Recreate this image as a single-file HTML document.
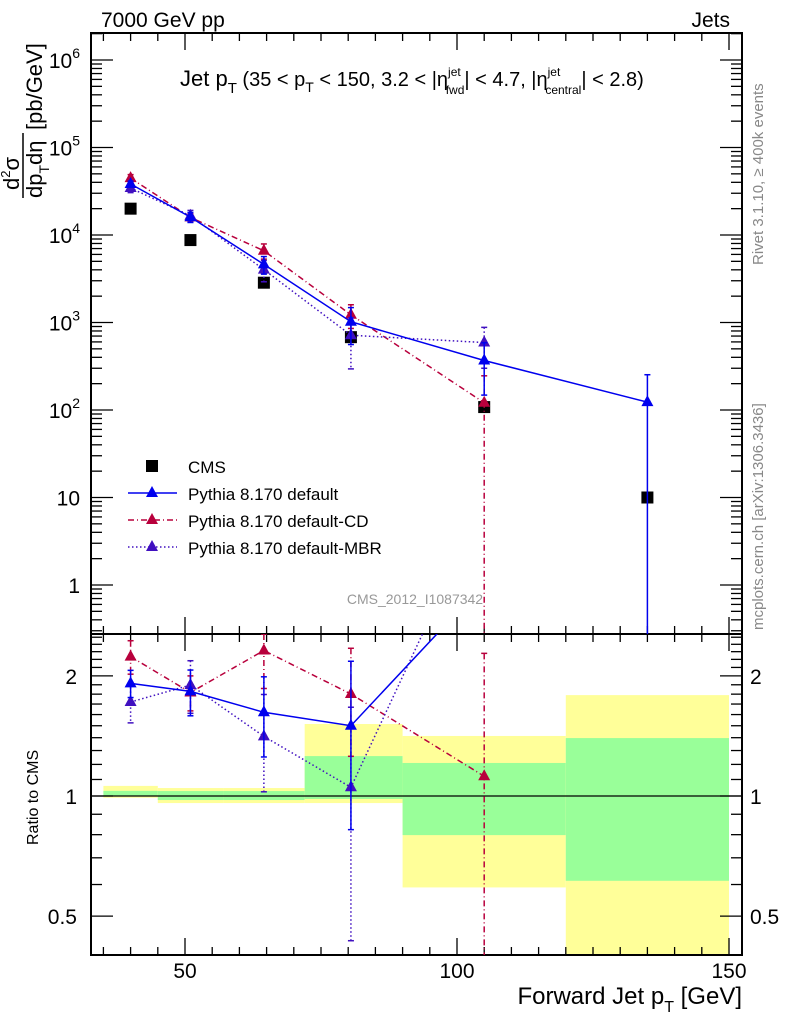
<!DOCTYPE html>
<html><head><meta charset="utf-8"><style>
html,body{margin:0;padding:0;background:#fff;width:786px;height:1024px;overflow:hidden}
svg{display:block;font-family:"Liberation Sans",sans-serif}
</style></head><body>
<svg id="c" width="786" height="1024" viewBox="0 0 786 1024" xmlns="http://www.w3.org/2000/svg">
<rect width="786" height="1024" fill="#fff"/>
<g id="bands"></g>
<g id="axes"></g>
<g id="marks"></g>
<text x="101" y="27" font-size="21">7000 GeV pp</text>
<text x="730" y="27" font-size="21" text-anchor="end">Jets</text>
<text x="180" y="86" font-size="22">Jet p<tspan font-size="15" dy="7">T</tspan><tspan dy="-7" font-size="20"> (35 &lt; p</tspan><tspan font-size="14" dy="6">T</tspan><tspan dy="-6" font-size="20"> &lt; 150, 3.2 &lt; |η</tspan><tspan font-size="12" dy="-10">jet</tspan><tspan font-size="12" dx="-15" dy="18">fwd</tspan><tspan dy="-8" font-size="20">| &lt; 4.7, |η</tspan><tspan font-size="12" dy="-10">jet</tspan><tspan font-size="12" dx="-15" dy="18">central</tspan><tspan dy="-8" font-size="20">| &lt; 2.8)</tspan></text>
<text transform="translate(763,265) rotate(-90)" font-size="15" fill="#888">Rivet 3.1.10, ≥ 400k events</text>
<text transform="translate(763,630) rotate(-90)" font-size="15" fill="#888">mcplots.cern.ch [arXiv:1306.3436]</text>
<text x="415" y="604" font-size="14" fill="#999" text-anchor="middle">CMS_2012_I1087342</text>
<g>
<line x1="23" y1="133" x2="23" y2="198" stroke="#000" stroke-width="1.5"/>
<text transform="translate(19,190) rotate(-90)" font-size="22">d<tspan font-size="13" dy="-9">2</tspan><tspan dy="9">σ</tspan></text>
<text transform="translate(42,198) rotate(-90)" font-size="22">dp<tspan font-size="14" dy="7">T</tspan><tspan dy="-7">dη</tspan></text>
<text transform="translate(42,130) rotate(-90)" font-size="22">[pb/GeV]</text>
</g>
<text transform="translate(38,845) rotate(-90)" font-size="16">Ratio to CMS</text>
<text x="742" y="1004" font-size="24" text-anchor="end">Forward Jet p<tspan font-size="16" dy="8">T</tspan><tspan dy="-8"> [GeV]</tspan></text>
<g>
<rect x="146" y="460" width="12" height="12" fill="#000"/>
<text x="188" y="473" font-size="17">CMS</text>
<line x1="128" y1="493" x2="177" y2="493" stroke="#0000ee" stroke-width="1.5"/>
<polygon points="152,486 158,497 146,497" fill="#0000ee"/>
<text x="188" y="500" font-size="17">Pythia 8.170 default</text>
<line x1="128" y1="520" x2="177" y2="520" stroke="#b8003c" stroke-width="1.5" stroke-dasharray="6,3,1,3"/>
<polygon points="152,513 158,524 146,524" fill="#b8003c"/>
<text x="188" y="527" font-size="17">Pythia 8.170 default-CD</text>
<line x1="128" y1="547" x2="177" y2="547" stroke="#4010c0" stroke-width="1.5" stroke-dasharray="1.5,2.5"/>
<polygon points="152,540 158,551 146,551" fill="#4010c0"/>
<text x="188" y="554" font-size="17">Pythia 8.170 default-MBR</text>
</g>
</svg>
<script>
// ---- data ----
const xCenters=[40,51,64.5,80.5,105,135];
const binEdges=[35,45,57,72,90,120,150];
const cmsVals=[20000,8750,2850,680,108,10];
const defVals=[38300,16000,4620,1020,368,123];
const defErr=[3000,2100,1050,460,220,130];
const cdVals=[44700,15900,6600,1225,121];
const cdErr=[4300,1600,1300,370,125];
const mbrVals=[34400,16600,4020,715,590];
const mbrErr=[3900,2500,1100,420,290];
const bandYellowHi=[1.06,1.047,1.047,1.515,1.414,1.79];
const bandYellowLo=[0.99,0.96,0.96,0.96,0.59,0.3];
const bandGreenHi=[1.03,1.029,1.029,1.259,1.21,1.397];
const bandGreenLo=[1.0,0.977,0.977,0.983,0.798,0.613];
const xTicks=[50,100,150];
const mainTicks=[1,10,100,1000,10000,100000,1000000];
const mainTickLabels=["1","10","10^2","10^3","10^4","10^5","10^6"];
const ratioTicks=[0.5,1,2];
const ratioTickLabels=["0.5","1","2"];
// ---- geometry ----
const L=91,R=742,T=33,M=634,B=955;
const X=v=>185+(v-50)*5.44;
const Y=v=>60-(Math.log10(v)-6)*87.5;
const YR=v=>796-Math.log10(v)*399;
const NS="http://www.w3.org/2000/svg";
function mk(tag,at,parent){const e=document.createElementNS(NS,tag);for(const k in at)e.setAttribute(k,at[k]);parent.appendChild(e);return e;}
const axes=document.getElementById('axes'),marks=document.getElementById('marks'),bands=document.getElementById('bands');
for(let i=0;i<6;i++){
 const x1=X(binEdges[i]),x2=X(binEdges[i+1]);
 const yt=Math.max(M,YR(bandYellowHi[i])),yb=Math.min(B,YR(bandYellowLo[i]));
 const r1=mk('rect',{x:x1,y:yt,width:x2-x1,height:yb-yt,fill:'#ffff99'},bands);
 
 
 const gt=YR(bandGreenHi[i]),gb=Math.min(B,YR(bandGreenLo[i]));
 const r2=mk('rect',{x:x1,y:gt,width:x2-x1,height:gb-gt,fill:'#99ff99'},bands);
 
 
}
mk('line',{x1:L,y1:YR(1),x2:R,y2:YR(1),stroke:'#000','stroke-width':1.3},bands);
mk('rect',{x:L,y:T,width:R-L,height:M-T,fill:'none',stroke:'#000','stroke-width':2},axes);
mk('rect',{x:L,y:M,width:R-L,height:B-M,fill:'none',stroke:'#000','stroke-width':2},axes);
for(let v=35;v<=150;v+=5){
 const major=v%50===0, x=X(v), len=major?17:8;
 [[T,1],[M,-1],[M,1],[B,-1]].forEach(([y0,d])=>mk('line',{x1:x,y1:y0,x2:x,y2:y0+d*len,stroke:'#000','stroke-width':1.3},axes));
}
xTicks.forEach(v=>{const t=mk('text',{x:X(v),y:978,'font-size':21,'text-anchor':'middle'},axes);t.textContent=v;
 
 });
for(let e=-1;e<=6;e++)for(let m=1;m<10;m++){
 const v=m*Math.pow(10,e),y=Y(v); if(y<T||y>M)continue;
 const len=m===1?22:11;
 mk('line',{x1:L,y1:y,x2:L+len,y2:y,stroke:'#000','stroke-width':1.3},axes);
 mk('line',{x1:R,y1:y,x2:R-len,y2:y,stroke:'#000','stroke-width':1.3},axes);
}
mainTicks.forEach((v,i)=>{const lab=mainTickLabels[i];const t=mk('text',{x:80,y:Y(v)+8,'font-size':21,'text-anchor':'end'},axes);
 if(lab.includes('^')){const p=lab.split('^');t.textContent=p[0];const s=mk('tspan',{'font-size':14,dy:-10},t);s.textContent=p[1];}else t.textContent=lab;
 
 });
const rt=[0.4,0.5,0.6,0.7,0.8,0.9,1,1.1,1.2,1.3,1.4,1.5,1.6,1.7,1.8,1.9,2,2.1,2.2,2.3,2.4,2.5];
rt.forEach(v=>{const y=YR(v);if(y<M||y>B)return;const len=(v===0.5||v===1||v===2)?22:11;
 mk('line',{x1:L,y1:y,x2:L+len,y2:y,stroke:'#000','stroke-width':1.3},axes);
 mk('line',{x1:R,y1:y,x2:R-len,y2:y,stroke:'#000','stroke-width':1.3},axes);});
ratioTicks.forEach((v,i)=>{
 const t=mk('text',{x:77,y:YR(v)+8,'font-size':21,'text-anchor':'end'},axes);t.textContent=ratioTickLabels[i];
 
 
 const t2=mk('text',{x:750,y:YR(v)+8,'font-size':21},axes);t2.textContent=ratioTickLabels[i];
 
 });
const defs=mk('defs',{},document.getElementById('c'));
const c1=mk('clipPath',{id:'cm'},defs);mk('rect',{x:L,y:T,width:R-L,height:M-T},c1);
const c2=mk('clipPath',{id:'cr'},defs);mk('rect',{x:L,y:M,width:R-L,height:B-M},c2);
const gm=mk('g',{'clip-path':'url(#cm)'},marks),gr=mk('g',{'clip-path':'url(#cr)'},marks);
cmsVals.forEach((v,i)=>{const r=mk('rect',{x:X(xCenters[i])-6,y:Y(v)-6,width:12,height:12,fill:'#000'},gm);
 
 });
function series(name,vals,errs,color,dash){
 const ptsM=vals.map((v,i)=>X(xCenters[i])+','+Y(v)).join(' ');
 const pl=mk('polyline',{points:ptsM,fill:'none',stroke:color,'stroke-width':1.5,'stroke-dasharray':dash},gm);
 
 
 const ptsR=vals.map((v,i)=>X(xCenters[i])+','+YR(v/cmsVals[i])).join(' ');
 const pr=mk('polyline',{points:ptsR,fill:'none',stroke:color,'stroke-width':1.5,'stroke-dasharray':dash},gr);
 
 
 vals.forEach((v,i)=>{
  const x=X(xCenters[i]);
  [[gm,Y,1,T,M],[gr,YR,cmsVals[i],M,B]].forEach(([g,f,s,top,bot])=>{
   const yy=f(v/s);
   if(yy<top||yy>bot)return;
   const hi=(v+errs[i])/s,lo=(v-errs[i])/s;
   const y1=Math.max(top,f(hi)),y2=lo>0?Math.min(bot,f(lo)):bot;
   mk('line',{x1:x,y1:y1,x2:x,y2:y2,stroke:color,'stroke-width':1.5,'stroke-dasharray':dash},g);
   mk('line',{x1:x-3,y1:y1,x2:x+3,y2:y1,stroke:color,'stroke-width':1.5},g);
   if(lo>0)mk('line',{x1:x-3,y1:y2,x2:x+3,y2:y2,stroke:color,'stroke-width':1.5},g);
   const tri=mk('polygon',{points:`${x},${yy-7} ${x+6},${yy+4} ${x-6},${yy+4}`,fill:color},g);
   
   
  });
 });
}
series('cd',cdVals,cdErr,'#b8003c','6,3,1,3');
series('mbr',mbrVals,mbrErr,'#4010c0','1.5,2.5');
series('default',defVals,defErr,'#0000ee','none');
</script>
</body></html>
